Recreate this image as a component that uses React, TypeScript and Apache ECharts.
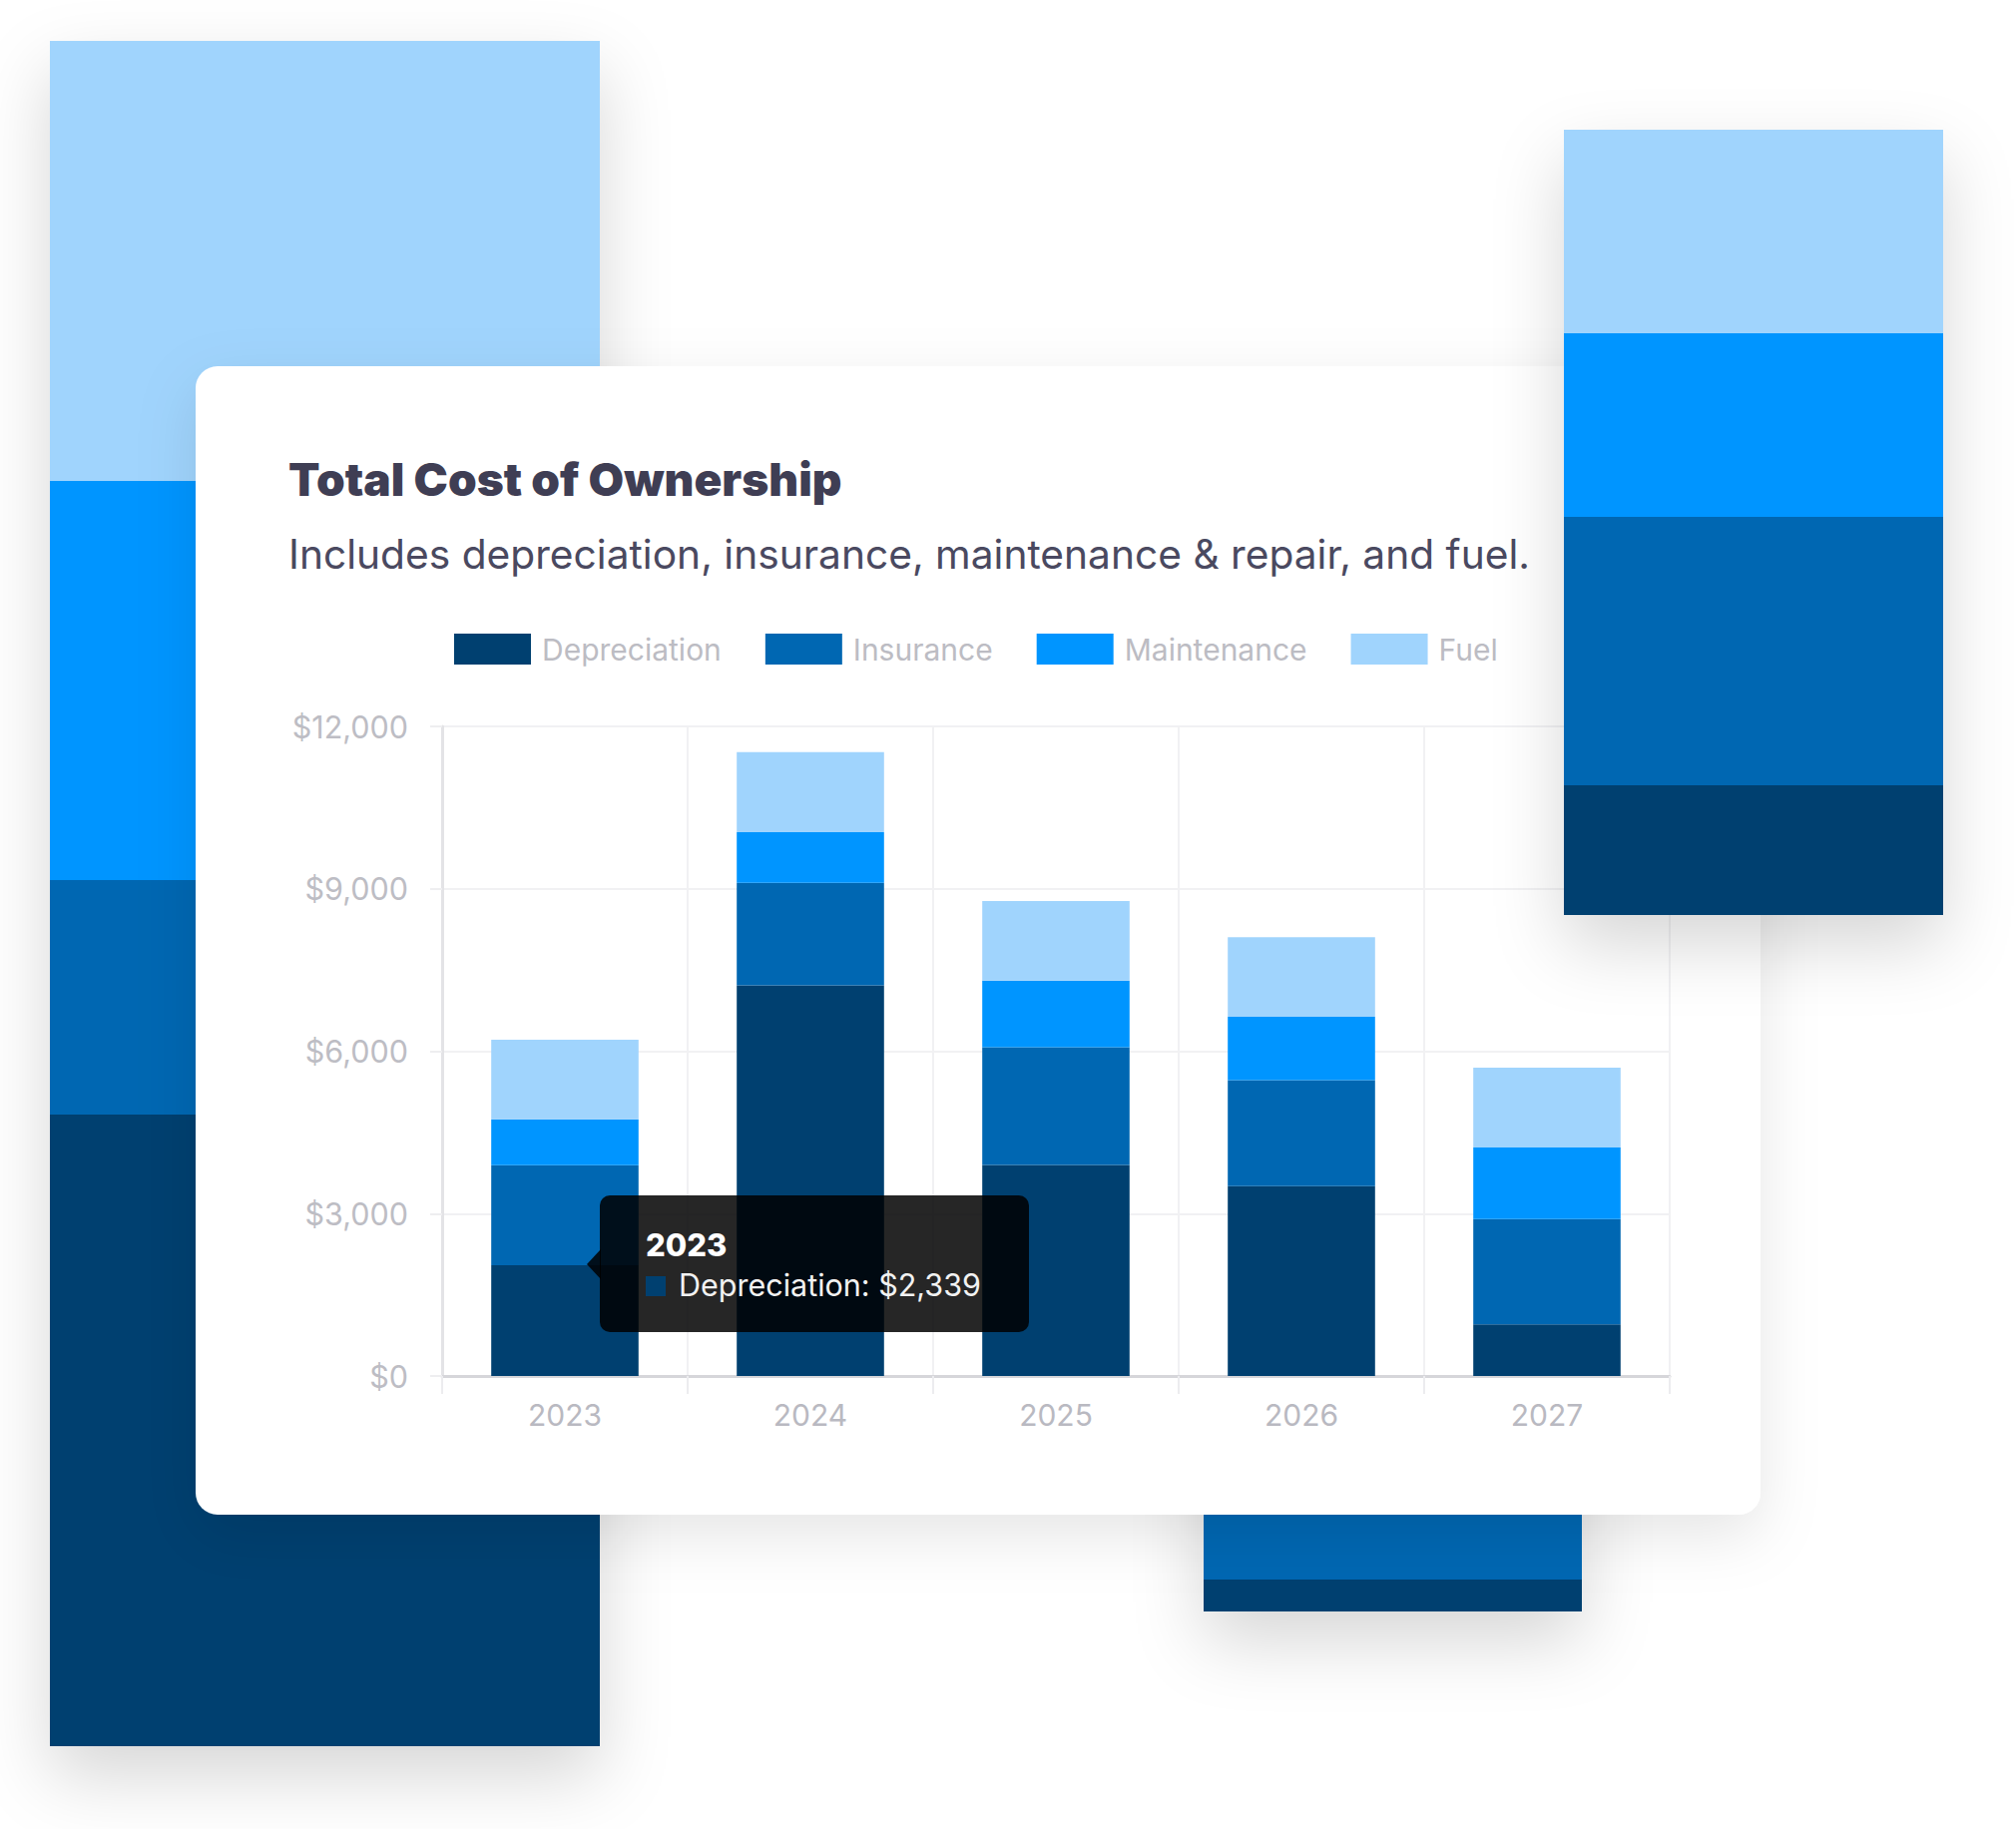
import React, { useEffect, useRef } from "react";
import * as echarts from "echarts";

const CATEGORIES = ["2023", "2024", "2025", "2026", "2027"];
const SERIES_NAMES = ["Depreciation", "Insurance", "Maintenance", "Fuel"];
const DEPRECIATION = [2047, 7215, 3900, 3507, 955];
const INSURANCE = [1845, 1894, 2175, 1959, 1942];
const MAINTENANCE = [851, 939, 1228, 1171, 1325];
const FUEL = [1469, 1477, 1469, 1469, 1476];
const Y_TICKS = [0, 3000, 6000, 9000, 12000];
const COLORS = ["#004070", "#0067B2", "#0095FF", "#A0D4FD"];
const TITLE = "Total Cost of Ownership";
const SUBTITLE = "Includes depreciation, insurance, maintenance & repair, and fuel.";
const TOOLTIP_CATEGORY = CATEGORIES[0];
const TOOLTIP_SERIES = SERIES_NAMES[0];
const TOOLTIP_VALUE = 2339;

const FONT = "Inter, 'Noto Sans', sans-serif";

const fmt = (v: number) => "$" + v.toLocaleString("en-US");

function decoBar(x: number, w: number, segs: { y0: number; y1: number; c: string }[], z: number) {
  const top = Math.min(...segs.map((s) => s.y0));
  const bottom = Math.max(...segs.map((s) => s.y1));
  return {
    type: "group",
    z,
    children: [
      {
        type: "rect",
        z,
        shape: { x, y: top, width: w, height: bottom - top },
        style: {
          fill: segs[segs.length - 1].c,
          shadowBlur: 70,
          shadowOffsetY: 30,
          shadowColor: "rgba(0,0,0,0.16)",
        },
      },
      ...segs.map((s) => ({
        type: "rect",
        z,
        shape: { x, y: s.y0, width: w, height: s.y1 - s.y0 },
        style: { fill: s.c },
      })),
    ],
  };
}

export default function App() {
  const ref = useRef<HTMLDivElement>(null);
  useEffect(() => {
    document.body.style.margin = "0";
    if (!ref.current) return;
    const chart = echarts.init(ref.current, null, { renderer: "svg", width: 2020, height: 1833 });
    const seriesData = [DEPRECIATION, INSURANCE, MAINTENANCE, FUEL];
    const option: any = {
      animation: false,
      backgroundColor: "#ffffff",
      textStyle: { fontFamily: FONT },
      title: [
        {
          text: TITLE,
          left: 289,
          top: 457,
          padding: 0,
          textStyle: { fontFamily: FONT, fontSize: 46, fontWeight: 900, color: "#3f3e54" },
        },
        {
          text: SUBTITLE,
          left: 289,
          top: 535,
          padding: 0,
          textStyle: { fontFamily: FONT, fontSize: 40.7, fontWeight: 400, color: "#4a4960" },
        },
      ],
      legend: {
        left: 455,
        top: 635,
        padding: 0,
        itemWidth: 77,
        itemHeight: 31,
        itemGap: 44,
        icon: "rect",
        selectedMode: false,
        data: SERIES_NAMES,
        textStyle: { fontFamily: FONT, fontSize: 30, color: "#bcbcc3", padding: [0, 0, 0, 6] },
      },
      grid: { left: 443, right: 2020 - 1673, top: 728, bottom: 1833 - 1379, containLabel: false },
      xAxis: {
        type: "category",
        data: CATEGORIES,
        axisLine: { show: true, lineStyle: { color: "#d6d6da", width: 3 } },
        axisTick: { show: true, length: 18, lineStyle: { color: "#ececef", width: 2 } },
        splitLine: { show: true, lineStyle: { color: "#f1f1f3", width: 2 } },
        axisLabel: { fontFamily: FONT, fontSize: 30, color: "#b9b9c1", margin: 24 },
      },
      yAxis: {
        type: "value",
        min: Y_TICKS[0],
        max: Y_TICKS[Y_TICKS.length - 1],
        interval: Y_TICKS[1] - Y_TICKS[0],
        axisLine: { show: true, lineStyle: { color: "#e3e3e6", width: 3 } },
        axisTick: { show: true, length: 12, lineStyle: { color: "#eeeef0", width: 2 } },
        splitLine: { show: true, lineStyle: { color: "#f1f1f3", width: 2 } },
        axisLabel: {
          fontFamily: FONT,
          fontSize: 30.5,
          color: "#bdbdc4",
          margin: 34,
          formatter: (v: number) => fmt(v),
        },
      },
      series: SERIES_NAMES.map((name, i) => ({
        name,
        type: "bar",
        stack: "total",
        barWidth: "60%",
        data: seriesData[i],
        itemStyle: { color: COLORS[i] },
        emphasis: { disabled: true },
      })),
      graphic: [
        decoBar(
          50,
          551,
          [
            { y0: 41, y1: 482, c: COLORS[3] },
            { y0: 482, y1: 882, c: COLORS[2] },
            { y0: 882, y1: 1117, c: COLORS[1] },
            { y0: 1117, y1: 1750, c: COLORS[0] },
          ],
          -5
        ),
        decoBar(
          1206,
          379,
          [
            { y0: 1300, y1: 1583, c: COLORS[1] },
            { y0: 1583, y1: 1615, c: COLORS[0] },
          ],
          -5
        ),
        {
          type: "rect",
          z: -3,
          shape: { x: 196, y: 367, width: 1568, height: 1151, r: 22 },
          style: {
            fill: "#ffffff",
            shadowBlur: 60,
            shadowOffsetY: 20,
            shadowColor: "rgba(0,0,0,0.10)",
          },
        },
        decoBar(
          1567,
          380,
          [
            { y0: 130, y1: 334, c: COLORS[3] },
            { y0: 334, y1: 518, c: COLORS[2] },
            { y0: 518, y1: 787, c: COLORS[1] },
            { y0: 787, y1: 917, c: COLORS[0] },
          ],
          20
        ),
        {
          type: "group",
          z: 30,
          children: [
            {
              type: "polygon",
              z: 30,
              shape: { points: [[602, 1252], [588, 1267], [602, 1282]] },
              style: { fill: "rgba(0,0,0,0.85)" },
            },
            {
              type: "rect",
              z: 30,
              shape: { x: 601, y: 1198, width: 430, height: 137, r: 10 },
              style: { fill: "rgba(0,0,0,0.85)" },
            },
            {
              type: "text",
              z: 31,
              x: 647,
              y: 1247,
              style: {
                text: TOOLTIP_CATEGORY,
                font: `800 31px ${FONT}`,
                fill: "#ffffff",
                verticalAlign: "middle",
                align: "left",
              },
            },
            {
              type: "rect",
              z: 31,
              shape: { x: 647, y: 1279, width: 20, height: 20 },
              style: { fill: COLORS[0] },
            },
            {
              type: "text",
              z: 31,
              x: 680,
              y: 1287,
              style: {
                text: `${TOOLTIP_SERIES}: ${fmt(TOOLTIP_VALUE)}`,
                font: `400 30.5px ${FONT}`,
                fill: "#f2f2f2",
                verticalAlign: "middle",
                align: "left",
              },
            },
          ],
        },
      ],
    };
    chart.setOption(option);
    return () => chart.dispose();
  }, []);
  return <div ref={ref} style={{ width: 2020, height: 1833 }} />;
}
